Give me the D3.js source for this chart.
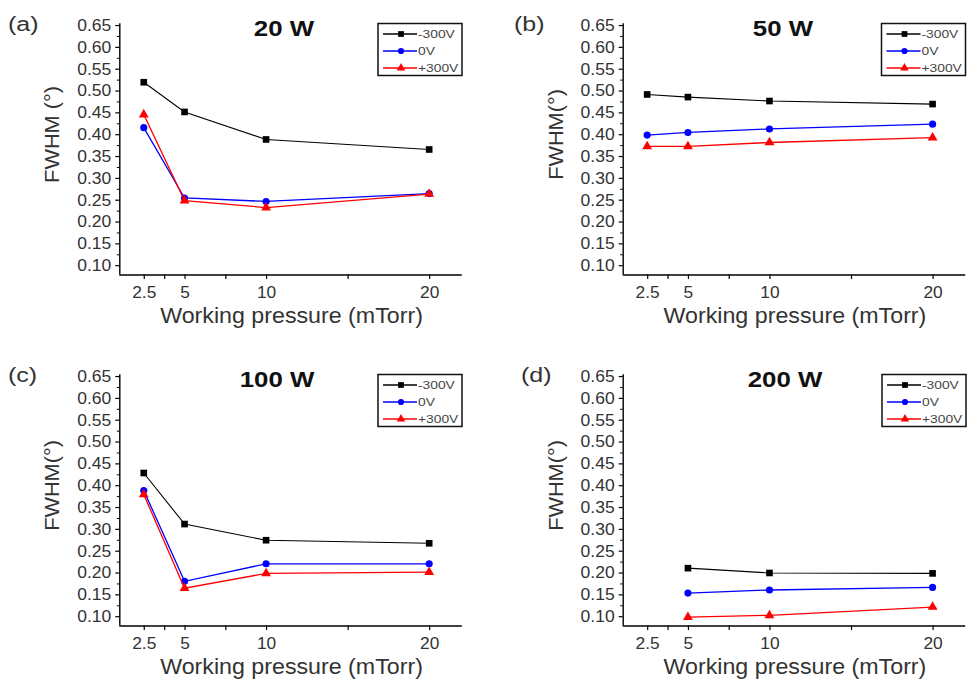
<!DOCTYPE html>
<html>
<head>
<meta charset="utf-8">
<script src="https://cdn.jsdelivr.net/npm/d3@7"></script>
<style>
  html, body { margin: 0; padding: 0; background: #fff; }
  svg { display: block; font-family: "Liberation Sans", Arial, sans-serif; }
</style>
</head>
<body>
<svg id="chart" width="968" height="683"></svg>
<script>
// Working pressure (mTorr) at which FWHM was measured
const pressures = [2.5, 5, 10, 20];
const pressures200 = [5, 10, 20];
const xTickValues = [2.5, 5, 10, 20];
const xMinorValues = [3.75, 7.5, 15];
const yTickValues = [0.10, 0.15, 0.20, 0.25, 0.30, 0.35, 0.40, 0.45, 0.50, 0.55, 0.60, 0.65];
const seriesNames = ["-300V", "0V", "+300V"];

// FWHM (degrees) per bias voltage, one set per sputtering power
const fwhm20W_m300 = [0.519, 0.451, 0.388, 0.365];
const fwhm20W_0 = [0.415, 0.254, 0.246, 0.264];
const fwhm20W_p300 = [0.445, 0.248, 0.232, 0.263];

const fwhm50W_m300 = [0.491, 0.485, 0.476, 0.469];
const fwhm50W_0 = [0.398, 0.404, 0.412, 0.423];
const fwhm50W_p300 = [0.372, 0.372, 0.381, 0.392];

const fwhm100W_m300 = [0.428, 0.311, 0.274, 0.267];
const fwhm100W_0 = [0.388, 0.180, 0.220, 0.220];
const fwhm100W_p300 = [0.379, 0.164, 0.198, 0.201];

const fwhm200W_m300 = [0.210, 0.199, 0.198];
const fwhm200W_0 = [0.153, 0.160, 0.166];
const fwhm200W_p300 = [0.098, 0.102, 0.121];

const seriesColors = ["#000000", "#0000ff", "#ff0000"];
const seriesSymbols = [d3.symbolSquare, d3.symbolCircle, d3.symbolTriangle];
const symbolSizes = [44, 40, 42];

const panels = [
  { tag: "(a)", title: "20 W", ylab: "FWHM (°)", x: pressures,
    ys: [fwhm20W_m300, fwhm20W_0, fwhm20W_p300],
    left: 119.3, bottom: 274.5, titleX: 284, tagX: 8, legX: 378 },
  { tag: "(b)", title: "50 W", ylab: "FWHM(°)", x: pressures,
    ys: [fwhm50W_m300, fwhm50W_0, fwhm50W_p300],
    left: 622.7, bottom: 274.5, titleX: 783, tagX: 514, legX: 881.5 },
  { tag: "(c)", title: "100 W", ylab: "FWHM(°)", x: pressures,
    ys: [fwhm100W_m300, fwhm100W_0, fwhm100W_p300],
    left: 119.3, bottom: 625.5, titleX: 277, tagX: 8, legX: 378 },
  { tag: "(d)", title: "200 W", ylab: "FWHM(°)", x: pressures200,
    ys: [fwhm200W_m300, fwhm200W_0, fwhm200W_p300],
    left: 622.7, bottom: 625.5, titleX: 785, tagX: 521, legX: 882 }
];

const svg = d3.select("#chart");
const plotW = 342.5, plotH = 251.2;

// widen glyphs horizontally along the text direction
function stretch(sel, k) {
  sel.each(function () {
    const len = this.getComputedTextLength();
    d3.select(this).attr("textLength", len * k).attr("lengthAdjust", "spacingAndGlyphs");
  });
}

panels.forEach(p => {
  const g = svg.append("g");
  const x = d3.scaleLinear().domain([1, 22]).range([p.left, p.left + plotW]);
  const y = d3.scaleLinear().domain([0.0787, 0.654]).range([p.bottom, p.bottom - plotH]);

  // y axis: major ticks with labels, one minor tick between each
  const yAxis = g.append("g").attr("transform", `translate(${p.left},0)`)
    .call(d3.axisLeft(y).tickValues(yTickValues).tickFormat(d3.format(".2f"))
      .tickSize(4).tickPadding(4));
  yAxis.select(".domain").attr("stroke", "#000").attr("stroke-width", 1.4)
    .attr("d", `M0.5,${y(0.654)}V${p.bottom}`);
  yAxis.selectAll(".tick line").attr("stroke", "#000").attr("stroke-width", 1.2);
  yAxis.selectAll(".tick text").attr("font-size", 17).attr("fill", "#333")
    .attr("font-family", "Liberation Sans, Arial, sans-serif").call(stretch, 1.03);
  g.append("g").attr("transform", `translate(${p.left},0)`)
    .call(d3.axisLeft(y).tickValues(yTickValues.slice(0, -1).map(v => v + 0.025)).tickFormat("").tickSize(2.5))
    .call(s => s.select(".domain").remove())
    .selectAll(".tick line").attr("stroke", "#000").attr("stroke-width", 1);

  // x axis
  const xAxis = g.append("g").attr("transform", `translate(0,${p.bottom})`)
    .call(d3.axisBottom(x).tickValues(xTickValues).tickFormat(d3.format("")).tickSize(4.5).tickPadding(7));
  xAxis.select(".domain").attr("stroke", "#000").attr("stroke-width", 1.4)
    .attr("d", `M${p.left},0.5H${p.left + plotW}`);
  xAxis.selectAll(".tick line").attr("stroke", "#000").attr("stroke-width", 1.2);
  xAxis.selectAll(".tick text").attr("font-size", 17).attr("fill", "#333")
    .attr("font-family", "Liberation Sans, Arial, sans-serif").call(stretch, 1.02);
  g.append("g").attr("transform", `translate(0,${p.bottom})`)
    .call(d3.axisBottom(x).tickValues(xMinorValues).tickFormat("").tickSize(4.5))
    .call(s => s.select(".domain").remove())
    .selectAll(".tick line").attr("stroke", "#000").attr("stroke-width", 1.2);

  // axis titles
  g.append("text").attr("x", (p.left + p.left + plotW) / 2 + 1).attr("y", p.bottom + 48.5)
    .attr("text-anchor", "middle").attr("font-size", 21.5).attr("fill", "#333")
    .text("Working pressure (mTorr)").call(stretch, 1.08);
  const ylabX = p.left - 60;
  const ylabY = p.bottom - 140;
  g.append("text").attr("transform", `translate(${ylabX},${ylabY}) rotate(-90)`)
    .attr("text-anchor", "middle").attr("font-size", 20.5).attr("fill", "#333")
    .text(p.ylab).call(stretch, 1.06);

  // panel title and tag
  g.append("text").attr("x", p.titleX).attr("y", p.bottom - 238.5)
    .attr("text-anchor", "middle").attr("font-size", 21.5).attr("font-weight", "bold").attr("fill", "#111")
    .text(p.title).call(stretch, 1.2);
  g.append("text").attr("x", p.tagX).attr("y", p.bottom - 244)
    .attr("font-size", 20).attr("fill", "#333").text(p.tag).call(stretch, 1.25);

  // series lines and markers
  const line = d3.line().x(d => x(d[0])).y(d => y(d[1]));
  p.ys.forEach((vals, i) => {
    const pts = p.x.map((v, j) => [v, vals[j]]);
    g.append("path").datum(pts).attr("d", line).attr("fill", "none")
      .attr("stroke", seriesColors[i]).attr("stroke-width", i === 0 ? 1.1 : 1.3);
    g.selectAll(null).data(pts).enter().append("path")
      .attr("transform", d => `translate(${x(d[0])},${y(d[1])})`)
      .attr("d", d3.symbol().type(seriesSymbols[i]).size(symbolSizes[i]))
      .attr("fill", seriesColors[i]);
  });

  // legend
  const legTop = p.bottom - 251;
  const leg = g.append("g").attr("transform", `translate(${p.legX},${legTop})`);
  leg.append("rect").attr("x", 0).attr("y", 0).attr("width", 84).attr("height", 52)
    .attr("fill", "#fff").attr("stroke", "#111").attr("stroke-width", 1.5);
  seriesNames.forEach((name, i) => {
    const ry = 10.5 + i * 17;
    leg.append("line").attr("x1", 5).attr("x2", 39).attr("y1", ry).attr("y2", ry)
      .attr("stroke", seriesColors[i]).attr("stroke-width", 1.3);
    leg.append("path").attr("transform", `translate(23,${ry})`)
      .attr("d", d3.symbol().type(seriesSymbols[i]).size(symbolSizes[i] * 0.75))
      .attr("fill", seriesColors[i]);
    leg.append("text").attr("x", 40).attr("y", ry + 4).attr("font-size", 11.5)
      .attr("fill", "#444").text(name).call(stretch, 1.2);
  });
});
</script>
</body>
</html>
